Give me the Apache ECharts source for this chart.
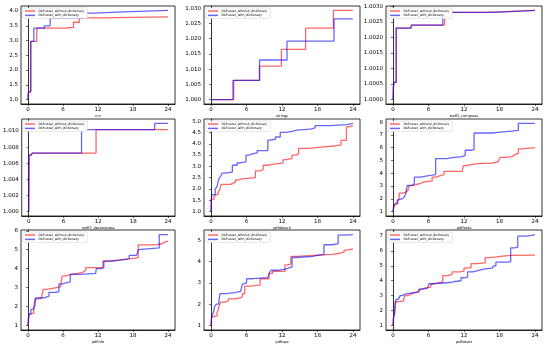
<!DOCTYPE html>
<html><head><meta charset="utf-8">
<script src="https://cdn.jsdelivr.net/npm/echarts@6/dist/echarts.min.js"></script>
<style>html,body{margin:0;padding:0;background:#fff}#c{width:550px;height:345px}</style>
</head><body><div id="c"></div>
<script>
const seriesNames = ["DkFuzzer_without_dictionary", "DkFuzzer_with_dictionary"];
const panelNames = ["nm", "strings", "woff2_compress", "woff2_decompress", "pdfdetach", "pdffonts", "pdfinfo", "pdftops", "pdftotext"];
const xTicks = [0, 6, 12, 18, 24];

const p1Without = [[0,1.0],[0.1,1.28],[0.5,2.97],[1.5,3.42],[6.3,3.45],[7.8,3.62],[8.8,3.77],[11.9,3.80],[24,3.80]];
const p1With = [[0,1.0],[0.05,1.25],[0.45,2.97],[1.0,3.42],[2.8,3.50],[3.8,3.75],[9.6,3.93],[11.3,3.97],[16.4,4.02],[24,4.02]];
const p2Without = [[0,1.0],[3.83,1.0063],[8.2,1.011],[11.9,1.0165],[16.0,1.0235],[20.7,1.0293],[24,1.0293]];
const p2With = [[0,1.0],[3.7,1.0063],[8.2,1.013],[12.85,1.0192],[20.8,1.0265],[24,1.0265]];
const p3Without = [[0,1.0],[0.05,1.0004],[0.15,1.00055],[0.55,1.0023],[3.0,1.00235],[3.1,1.0024],[8.7,1.00281],[15.6,1.00287],[24,1.00287]];
const p3With = [[0,1.0],[0.05,1.0004],[0.15,1.00055],[0.5,1.0023],[3.0,1.00235],[3.1,1.0024],[8.4,1.00281],[17.4,1.00287],[24,1.00287]];
const p4Without = [[0,1.0],[0.05,1.00702],[0.5,1.00712],[0.6,1.00727],[11.6,1.01017],[24,1.01017]];
const p4With = [[0,1.0],[0.05,1.00702],[0.4,1.00712],[0.6,1.00727],[9.1,1.01017],[21.7,1.01095],[24,1.01095]];
const p5Without = [[0,1.0],[0.05,1.55],[0.5,1.65],[0.8,1.75],[1.2,1.85],[1.5,2.0],[1.7,2.2],[3.3,2.25],[3.7,2.3],[4.1,2.4],[4.7,2.45],[5.2,2.5],[7.5,2.8],[8.3,2.85],[8.8,3.05],[9.6,3.1],[10.6,3.15],[12.2,3.3],[12.8,3.35],[13.7,3.5],[14.4,3.55],[14.8,3.8],[16.6,3.85],[18.5,3.9],[20.8,3.95],[22.0,4.15],[22.9,4.75],[23.3,4.8],[24,4.8]];
const p5With = [[0,1.0],[0.05,1.6],[0.15,1.75],[0.7,2.0],[0.8,2.05],[1.0,2.1],[1.3,2.45],[1.6,2.55],[1.85,2.7],[2.3,2.75],[3.6,3.05],[4.4,3.15],[4.85,3.2],[5.9,3.5],[6.4,3.55],[7.0,3.6],[7.8,3.7],[9.6,4.15],[9.9,4.2],[10.9,4.3],[11.7,4.5],[12.6,4.55],[13.7,4.6],[14.5,4.65],[16.8,4.7],[17.6,4.8],[20.2,4.85],[23.0,4.9],[24,4.9]];
const p6Without = [[0,1.0],[0.1,1.3],[0.4,1.6],[0.8,1.8],[1.0,2.0],[1.05,2.45],[1.7,2.5],[2.1,2.65],[2.5,2.8],[2.7,3.0],[3.0,3.1],[3.8,3.2],[4.65,3.3],[5.05,3.4],[6.6,3.7],[7.3,3.8],[7.85,3.9],[8.6,4.15],[11.7,4.25],[11.9,4.6],[12.3,4.75],[14.2,4.8],[16.7,4.9],[17.8,5.0],[18.1,5.25],[19.0,5.3],[20.1,5.45],[20.6,5.55],[21.2,5.9],[21.8,6.0],[24,6.0]];
const p6With = [[0,1.0],[0.05,1.3],[0.2,1.55],[0.45,1.7],[0.7,1.9],[1.0,2.0],[1.5,2.1],[1.85,2.2],[2.1,2.35],[2.35,2.5],[2.4,3.05],[3.25,3.1],[3.4,3.2],[3.6,3.7],[4.65,3.8],[5.8,3.85],[6.6,3.9],[7.2,5.15],[9.1,5.25],[10.3,5.3],[11.7,5.4],[12.2,5.8],[13.3,5.85],[13.7,7.15],[16.7,7.2],[17.8,7.25],[19.0,7.3],[20.1,7.35],[21.2,7.9],[24,7.9]];
const p7Without = [[0,1.0],[0.2,1.6],[0.5,1.65],[1.0,2.0],[1.2,2.4],[1.75,2.45],[2.3,2.5],[2.6,2.9],[3.15,2.95],[4.0,3.0],[4.85,3.05],[5.6,3.1],[5.85,3.6],[6.25,3.7],[7.4,3.75],[8.5,3.8],[9.35,3.9],[9.9,4.05],[12.85,4.4],[13.9,4.45],[15.3,4.5],[17.0,4.55],[18.4,4.6],[18.9,5.25],[21.7,5.3],[22.9,5.4],[23.4,5.45],[24,5.45]];
const p7With = [[0,1.0],[0.05,1.3],[0.15,1.6],[0.5,1.85],[0.9,1.95],[1.2,2.05],[1.3,2.45],[2.6,2.5],[3.15,2.55],[3.6,2.75],[4.85,2.8],[5.3,3.2],[5.85,3.25],[6.5,3.3],[7.25,3.7],[9.0,3.75],[11.6,3.8],[11.7,4.0],[12.45,4.05],[13.0,4.4],[14.4,4.45],[15.8,4.5],[17.0,4.55],[17.35,4.7],[18.6,4.75],[18.9,5.0],[19.2,5.1],[22.5,5.8],[24,5.8]];
const p8Without = [[0,1.0],[0.1,1.4],[0.3,1.45],[1.0,1.6],[1.2,1.75],[1.35,1.9],[1.6,2.1],[2.3,2.15],[2.9,2.25],[4.0,2.3],[4.9,2.35],[5.3,2.5],[5.7,2.85],[6.5,2.9],[8.3,3.2],[9.8,3.45],[10.4,3.55],[12.5,3.85],[13.0,3.9],[13.5,4.25],[14.5,4.3],[17.5,4.35],[20.5,4.4],[21.8,4.45],[22.5,4.55],[23.0,4.6],[24,4.6]];
const p8With = [[0,1.0],[0.05,1.3],[0.2,1.5],[0.4,1.6],[0.6,1.9],[0.9,2.0],[1.3,2.1],[1.5,2.5],[2.5,2.55],[4.0,2.6],[5.0,2.65],[5.3,2.95],[5.6,3.0],[6.0,3.2],[7.0,3.25],[9.6,3.3],[9.9,3.5],[10.2,3.6],[11.5,3.65],[12.6,3.7],[13.0,3.75],[13.7,4.2],[14.5,4.25],[17.2,4.3],[18.0,4.35],[19.1,4.8],[20.5,4.85],[21.5,5.25],[22.5,5.28],[24,5.28]];
const p9Without = [[0,1.0],[0.05,1.5],[0.2,1.75],[0.35,2.6],[1.0,2.65],[1.8,2.8],[2.0,3.0],[2.5,3.1],[3.0,3.2],[3.8,3.25],[4.3,3.4],[4.8,3.5],[5.2,3.55],[6.3,3.6],[6.5,3.8],[7.0,3.85],[7.5,3.9],[8.4,4.35],[9.3,4.45],[10.0,4.6],[11.3,4.65],[12.0,4.85],[12.6,4.9],[13.2,5.15],[14.2,5.2],[15.6,5.55],[16.2,5.6],[17.5,5.65],[18.5,5.7],[20.0,5.72],[24,5.72]];
const p9With = [[0,1.0],[0.1,1.6],[0.25,1.75],[0.4,2.45],[0.5,2.75],[0.9,2.85],[1.2,3.0],[1.6,3.1],[2.0,3.15],[2.7,3.2],[3.5,3.25],[4.3,3.3],[4.5,3.45],[5.3,3.5],[5.8,3.55],[6.1,3.8],[7.0,3.85],[8.5,3.9],[10.0,3.95],[10.5,4.0],[11.5,4.2],[12.0,4.25],[12.6,4.6],[13.5,4.7],[14.5,4.8],[15.5,4.85],[16.8,4.9],[17.0,5.0],[17.4,5.25],[19.5,5.3],[19.9,6.2],[20.5,6.25],[21.1,7.0],[22.5,7.05],[23.4,7.1],[24,7.1]];

const yTicks1 = [1.0,1.5,2.0,2.5,3.0,3.5,4.0];
const yTicks2 = [1.000,1.005,1.010,1.015,1.020,1.025,1.030];
const yTicks3 = [1.0000,1.0005,1.0010,1.0015,1.0020,1.0025,1.0030];
const yTicks4 = [1.000,1.002,1.004,1.006,1.008,1.010];
const yTicks5 = [1.0,1.5,2.0,2.5,3.0,3.5,4.0,4.5,5.0];
const yTicks6 = [1,2,3,4,5,6,7,8];
const yTicks7 = [1,2,3,4,5,6];
const yTicks8 = [1,2,3,4,5];
const yTicks9 = [1,2,3,4,5,6,7];
const yDecimals = [1,3,4,3,1,0,0,0,0];

const panels = [
  [p1Without,p1With,yTicks1],[p2Without,p2With,yTicks2],[p3Without,p3With,yTicks3],
  [p4Without,p4With,yTicks4],[p5Without,p5With,yTicks5],[p6Without,p6With,yTicks6],
  [p7Without,p7With,yTicks7],[p8Without,p8With,yTicks8],[p9Without,p9With,yTicks9]
];

const colLeft = [21, 204, 386], colWidth = [154, 156, 156];
const rowTop = [6, 119, 230], rowHeight = [98, 97, 100];
const FONT = 'DejaVu Sans';
const grid = [], xAxis = [], yAxis = [], series = [], legend = [];
panels.forEach((p, i) => {
  const r = Math.floor(i / 3), c = i % 3;
  const [wo, wi, yt] = p;
  const all = wo.concat(wi).map(d => d[1]);
  const lo = Math.min(...all), hi = Math.max(...all), span = hi - lo;
  grid.push({left: colLeft[c], top: rowTop[r], width: colWidth[c], height: rowHeight[r],
    show: true, borderColor: '#000', borderWidth: 0.8, backgroundColor: '#fff', containLabel: false});
  xAxis.push({type: 'value', gridIndex: i, min: -1.2, max: 25.2, splitLine: {show: false},
    name: panelNames[i], nameLocation: 'middle', nameGap: 10,
    nameTextStyle: {fontSize: 3.5, fontFamily: FONT, color: '#000'},
    axisLine: {lineStyle: {color: '#000', width: 0.8}},
    axisTick: {show: true, length: 2, lineStyle: {color: '#000', width: 0.6}, customValues: xTicks},
    axisLabel: {fontSize: 5.5, fontFamily: FONT, color: '#000', margin: 3, customValues: xTicks}});
  const dec = yDecimals[i];
  yAxis.push({type: 'value', gridIndex: i, min: lo - span * 0.05, max: hi + span * 0.05,
    splitLine: {show: false},
    axisLine: {show: true, lineStyle: {color: '#000', width: 0.8}},
    axisTick: {show: true, length: 2, lineStyle: {color: '#000', width: 0.6}, customValues: yt},
    axisLabel: {fontSize: 5.5, fontFamily: FONT, color: '#000', margin: 3, customValues: yt,
      formatter: v => v.toFixed(dec)}});
  [[wo, 'rgba(255,0,0,0.6)', 0], [wi, 'rgba(0,0,255,0.6)', 1]].forEach(([d, col, k]) => {
    series.push({type: 'line', name: seriesNames[k], xAxisIndex: i, yAxisIndex: i, data: d,
      step: 'end', showSymbol: false, symbol: 'none', silent: true, animation: false,
      lineStyle: {color: col, width: 1.3}, itemStyle: {color: col}, z: 2 + k});
  });
  legend.push({left: colLeft[c] + 2, top: rowTop[r] + 2, orient: 'vertical', data: seriesNames,
    itemWidth: 10, itemHeight: 1.5, itemGap: 1.4, padding: [1.5, 3, 1.5, 2], icon: 'rect',
    borderColor: '#ccc', borderWidth: 0.5, borderRadius: 1, backgroundColor: '#fff',
    textStyle: {fontSize: 3.2, fontFamily: FONT, color: '#000', padding: [0, 0, 0, -1.5]},
    selectedMode: false});
});

const chart = echarts.init(document.getElementById('c'), null, {renderer: 'canvas'});
chart.setOption({animation: false, backgroundColor: '#fff', grid, xAxis, yAxis, series, legend});
</script></body></html>
